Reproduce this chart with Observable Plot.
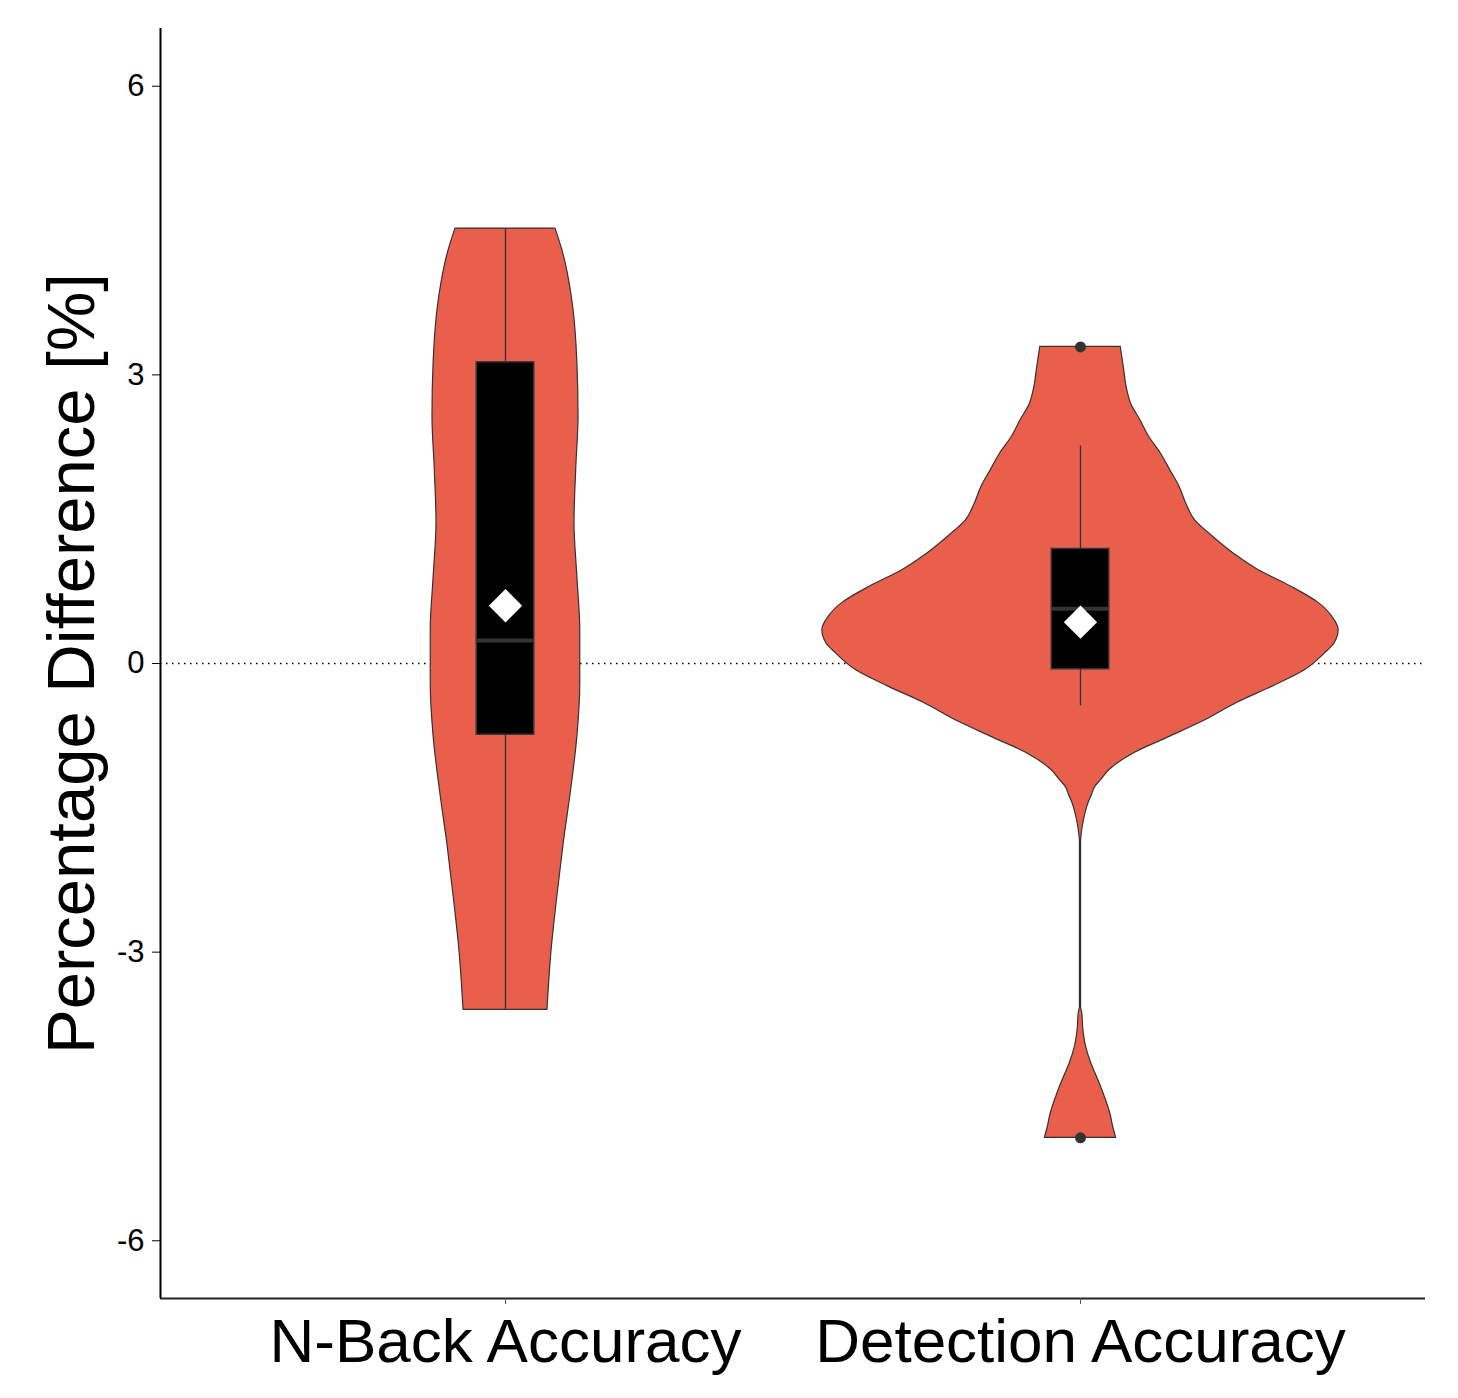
<!DOCTYPE html>
<html><head><meta charset="utf-8">
<script src="https://cdn.jsdelivr.net/npm/d3@7"></script>
<script src="https://cdn.jsdelivr.net/npm/@observablehq/plot@0.6"></script>
<style>body{margin:0;background:#fff} #chart svg{display:block}</style>
</head><body><div id="chart"></div>
<script>
const categories = ["N-Back Accuracy", "Detection Accuracy"];
const yTicks = [-6, -3, 0, 3, 6];
const yTitle = "Percentage Difference [%]";

// Violin outlines: value and half-width (in category units)
const nbackViolinY = [4.52, 4.25, 3.97, 3.69, 3.13, 2.57, 2.02, 1.46, 0.90, 0.35, -0.21, -0.76, -1.32, -1.88, -2.43, -2.99, -3.60];
const nbackViolinHalfWidth = [0.087, 0.101, 0.111, 0.118, 0.125, 0.127, 0.123, 0.120, 0.125, 0.130, 0.130, 0.125, 0.114, 0.101, 0.090, 0.080, 0.073];

const detectViolinY = [3.29, 3.05, 2.88, 2.70, 2.53, 2.36, 2.18, 2.01, 1.84, 1.66, 1.49, 1.32, 1.14, 0.97, 0.80, 0.63, 0.45, 0.35, 0.21, 0.11, -0.07, -0.24, -0.41, -0.59, -0.76, -0.93, -1.11, -1.21, -1.28, -1.38, -1.45, -1.55, -1.73, -1.86, -3.57, -3.63, -3.81, -3.99, -4.16, -4.33, -4.50, -4.68, -4.82, -4.93];
const detectViolinHalfWidth = [0.070, 0.076, 0.080, 0.088, 0.104, 0.119, 0.140, 0.156, 0.172, 0.184, 0.199, 0.230, 0.267, 0.310, 0.366, 0.414, 0.442, 0.449, 0.442, 0.426, 0.390, 0.334, 0.272, 0.217, 0.156, 0.094, 0.050, 0.036, 0.026, 0.019, 0.014, 0.009, 0.003, 0.001, 0.001, 0.003, 0.005, 0.010, 0.019, 0.031, 0.042, 0.052, 0.057, 0.062];

// Box plot statistics
const boxQ1 = [-0.74, -0.06];
const boxMedian = [0.24, 0.57];
const boxQ3 = [3.13, 1.19];
const whiskerLow = [-3.60, -0.44];
const whiskerHigh = [4.52, 2.26];
const means = [0.60, 0.43];
const outlierCategory = [2, 2];
const outlierValue = [3.29, -4.93];

const boxHalf = 0.05;
const violinFill = "#EA5F4B";
const font = "'Liberation Sans', Arial, sans-serif";

const violinSets = [[nbackViolinY, nbackViolinHalfWidth], [detectViolinY, detectViolinHalfWidth]];
const violins = violinSets.flatMap(([ys, ws], i) =>
  ys.map((y, j) => ({cat: categories[i], y, x1: i + 1 - ws[j], x2: i + 1 + ws[j]}))
    .sort((a, b) => a.y - b.y)
);
const boxes = categories.map((c, i) => ({
  cat: c, x: i + 1, q1: boxQ1[i], med: boxMedian[i], q3: boxQ3[i],
  lo: whiskerLow[i], hi: whiskerHigh[i], mean: means[i]
}));
const outliers = outlierValue.map((v, i) => ({x: outlierCategory[i], y: v}));

const chart = Plot.plot({
  width: 1458,
  height: 1398,
  marginLeft: 160,
  marginRight: 33,
  marginTop: 28,
  marginBottom: 100,
  style: {fontFamily: font, background: "#fff", color: "black"},
  x: {type: "linear", domain: [0.4, 2.6], axis: null},
  y: {domain: [-6.6, 6.6], axis: null},
  marks: [
    Plot.ruleY([0], {stroke: "black", strokeWidth: 1.3, strokeDasharray: "1.5,4.5"}),
    Plot.areaX(violins, {y: "y", x1: "x1", x2: "x2", z: "cat", fill: violinFill, stroke: "#333", strokeWidth: 1.2, curve: "monotone-y"}),
    Plot.ruleX(boxes, {x: "x", y1: "lo", y2: "hi", stroke: "#333", strokeWidth: 1.3}),
    Plot.rect(boxes, {x1: d => d.x - boxHalf, x2: d => d.x + boxHalf, y1: "q1", y2: "q3", fill: "black", stroke: "#333", strokeWidth: 1.5}),
    Plot.ruleY(boxes, {y: "med", x1: d => d.x - boxHalf, x2: d => d.x + boxHalf, stroke: "#333", strokeWidth: 4}),
    Plot.dot(boxes, {x: "x", y: "mean", symbol: "diamond2", r: 15, fill: "white", stroke: "none"}),
    Plot.dot(outliers, {x: "x", y: "y", r: 5.5, fill: "#333", stroke: "none"}),
    Plot.ruleX([0.4], {stroke: "black", strokeWidth: 2}),
    Plot.ruleY([-6.6], {stroke: "#222", strokeWidth: 2}),
    Plot.axisY({ticks: yTicks, tickFormat: d => d < 0 ? "-" + Math.abs(d) : String(d), tickSize: 8, tickPadding: 8, fontSize: 31, label: null, stroke: "black", fill: "black"}),
    Plot.axisX({ticks: [1, 2], tickFormat: d => categories[d - 1], tickSize: 6, tickPadding: 13, fontSize: 62, label: null, stroke: "#555", fill: "black"}),
    Plot.text([yTitle], {text: d => d, frameAnchor: "left", textAnchor: "middle", rotate: -90, dx: -88, fontSize: 67, fill: "black"})
  ]
});
document.getElementById("chart").appendChild(chart);
</script>
</body></html>
